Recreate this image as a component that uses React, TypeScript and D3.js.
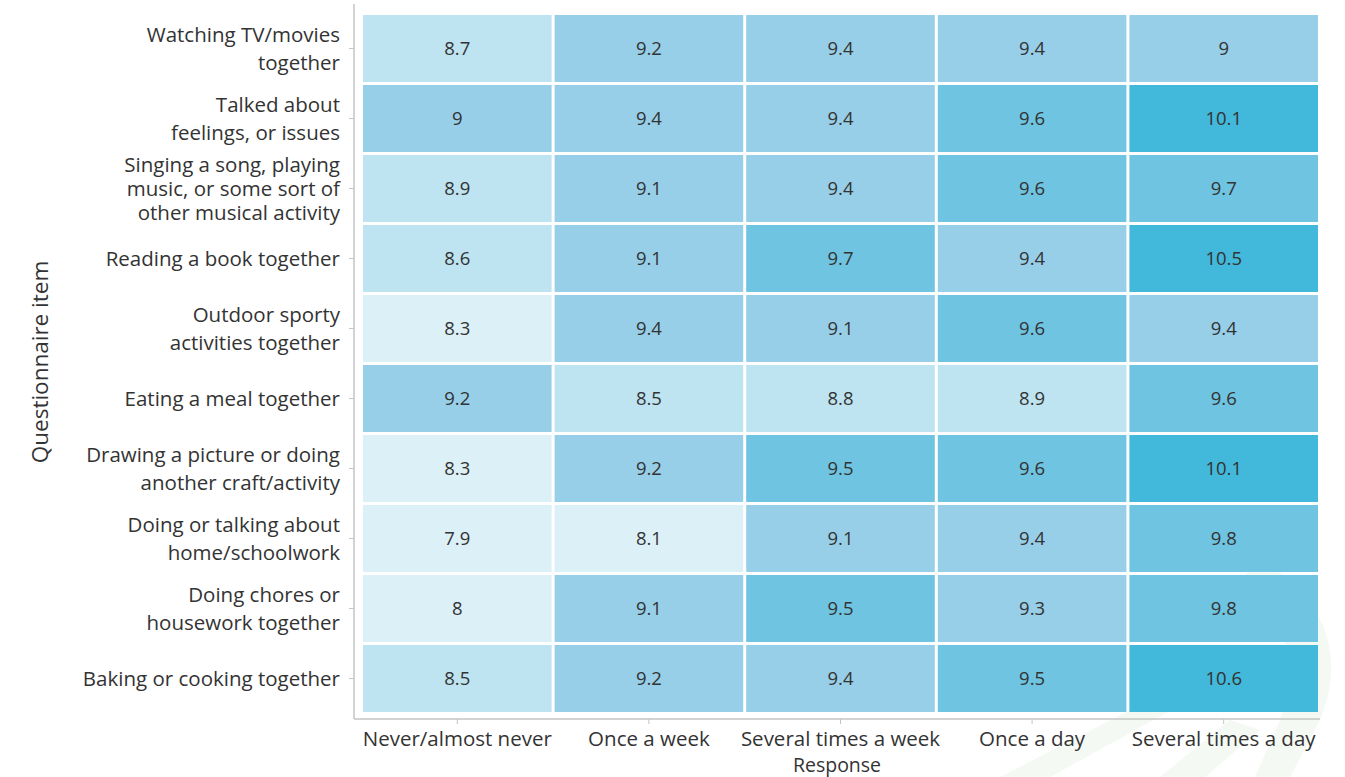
import React, { useEffect, useRef } from 'react';
import * as d3 from 'd3';

const responses = ['Never/almost never', 'Once a week', 'Several times a week', 'Once a day', 'Several times a day'];

const items = [
  'Watching TV/movies together',
  'Talked about feelings, or issues',
  'Singing a song, playing music, or some sort of other musical activity',
  'Reading a book together',
  'Outdoor sporty activities together',
  'Eating a meal together',
  'Drawing a picture or doing another craft/activity',
  'Doing or talking about home/schoolwork',
  'Doing chores or housework together',
  'Baking or cooking together',
];

// label line breaks as shown on the axis
const itemLines = [
  ['Watching TV/movies', 'together'],
  ['Talked about', 'feelings, or issues'],
  ['Singing a song, playing', 'music, or some sort of', 'other musical activity'],
  ['Reading a book together'],
  ['Outdoor sporty', 'activities together'],
  ['Eating a meal together'],
  ['Drawing a picture or doing', 'another craft/activity'],
  ['Doing or talking about', 'home/schoolwork'],
  ['Doing chores or', 'housework together'],
  ['Baking or cooking together'],
];

// one row per item, one value per response
const values = [
  [8.7, 9.2, 9.4, 9.4, 9],
  [9, 9.4, 9.4, 9.6, 10.1],
  [8.9, 9.1, 9.4, 9.6, 9.7],
  [8.6, 9.1, 9.7, 9.4, 10.5],
  [8.3, 9.4, 9.1, 9.6, 9.4],
  [9.2, 8.5, 8.8, 8.9, 9.6],
  [8.3, 9.2, 9.5, 9.6, 10.1],
  [7.9, 8.1, 9.1, 9.4, 9.8],
  [8, 9.1, 9.5, 9.3, 9.8],
  [8.5, 9.2, 9.4, 9.5, 10.6],
];

const binEdges = [8.5, 9.0, 9.5, 10.0];
const binColors = ['#dcf0f8', '#bee3f1', '#97cfe8', '#6ec4e1', '#42b8da'];

const W = 1345;
const H = 777;

const App: React.FC = () => {
  const svgRef = useRef<SVGSVGElement>(null);

  useEffect(() => {
    if (!svgRef.current) return;
    const svg = d3.select(svgRef.current);
    svg.selectAll('*').remove();

    const font = "'Open Sans', 'Noto Sans', sans-serif";
    const axisColor = '#c4c4c4';

    const x = d3.scaleBand<string>().domain(responses).range([361.5, 1319.5]);
    const y = d3.scaleBand<string>().domain(items).range([13.5, 713.5]);
    const color = d3.scaleThreshold<number, string>().domain(binEdges).range(binColors);
    const gap = 1.5;

    // faint background watermark
    const wm = svg.append('g').attr('fill', '#f0f7ee').attr('opacity', 0.7);
    wm.append('path').attr('d', 'M1260,560 C1330,600 1345,660 1320,720 L1290,777 L1255,777 L1280,720 C1300,670 1290,620 1240,580 Z');
    wm.append('path').attr('d', 'M1000,777 L1150,700 L1190,700 L1050,777 Z');
    wm.append('path').attr('d', 'M1160,777 L1230,720 L1260,730 L1205,777 Z');

    // cells
    const cells = values.flatMap((row, i) => row.map((v, j) => ({ item: items[i], resp: responses[j], v })));

    const g = svg.append('g');
    g.selectAll('rect')
      .data(cells)
      .enter().append('rect')
      .attr('x', d => (x(d.resp) as number) + gap)
      .attr('y', d => (y(d.item) as number) + gap)
      .attr('width', x.bandwidth() - gap * 2)
      .attr('height', y.bandwidth() - gap * 2)
      .attr('fill', d => color(d.v));

    g.selectAll('text.val')
      .data(cells)
      .enter().append('text')
      .attr('class', 'val')
      .attr('x', d => (x(d.resp) as number) + x.bandwidth() / 2)
      .attr('y', d => (y(d.item) as number) + y.bandwidth() / 2)
      .attr('dy', '0.35em')
      .attr('text-anchor', 'middle')
      .style('font-family', font)
      .style('font-size', '18.5px')
      .style('fill', '#333')
      .text(d => String(d.v));

    // axes
    const axisLeft = 354;
    const axisBottom = 719;
    svg.append('line')
      .attr('x1', axisLeft).attr('x2', axisLeft)
      .attr('y1', 4).attr('y2', axisBottom)
      .attr('stroke', axisColor).attr('stroke-width', 1.5);
    svg.append('line')
      .attr('x1', axisLeft).attr('x2', 1320)
      .attr('y1', axisBottom).attr('y2', axisBottom)
      .attr('stroke', axisColor).attr('stroke-width', 1.5);

    // y ticks + labels
    const yt = svg.append('g');
    items.forEach((it, i) => {
      const cy = (y(it) as number) + y.bandwidth() / 2;
      yt.append('line')
        .attr('x1', axisLeft - 5).attr('x2', axisLeft)
        .attr('y1', cy).attr('y2', cy)
        .attr('stroke', axisColor);
      const lines = itemLines[i];
      const lh = lines.length === 3 ? 24 : 28;
      const t = yt.append('text')
        .attr('text-anchor', 'end')
        .style('font-family', font)
        .style('font-size', '20.5px')
        .style('fill', '#333');
      lines.forEach((ln, k) => {
        t.append('tspan')
          .attr('x', 340)
          .attr('y', cy + (k - (lines.length - 1) / 2) * lh)
          .attr('dy', '0.35em')
          .text(ln);
      });
    });

    // x ticks + labels
    responses.forEach(r => {
      const cx = (x(r) as number) + x.bandwidth() / 2;
      svg.append('line')
        .attr('x1', cx).attr('x2', cx)
        .attr('y1', axisBottom).attr('y2', axisBottom + 5)
        .attr('stroke', axisColor);
      svg.append('text')
        .attr('x', cx)
        .attr('y', 739)
        .attr('dy', '0.35em')
        .attr('text-anchor', 'middle')
        .style('font-family', font)
        .style('font-size', '20.5px')
        .style('fill', '#333')
        .text(r);
    });

    // axis titles
    svg.append('text')
      .attr('x', 837)
      .attr('y', 765)
      .attr('dy', '0.35em')
      .attr('text-anchor', 'middle')
      .style('font-family', font)
      .style('font-size', '19.5px')
      .style('fill', '#333')
      .text('Response');

    svg.append('text')
      .attr('transform', 'translate(40,362) rotate(-90)')
      .attr('dy', '0.35em')
      .attr('text-anchor', 'middle')
      .style('font-family', font)
      .style('font-size', '22.5px')
      .style('fill', '#333')
      .text('Questionnaire item');
  }, []);

  return (
    <svg
      ref={svgRef}
      width={W}
      height={H}
      style={{ position: 'absolute', left: 0, top: 0, background: '#fff' }}
    />
  );
};

export default App;
